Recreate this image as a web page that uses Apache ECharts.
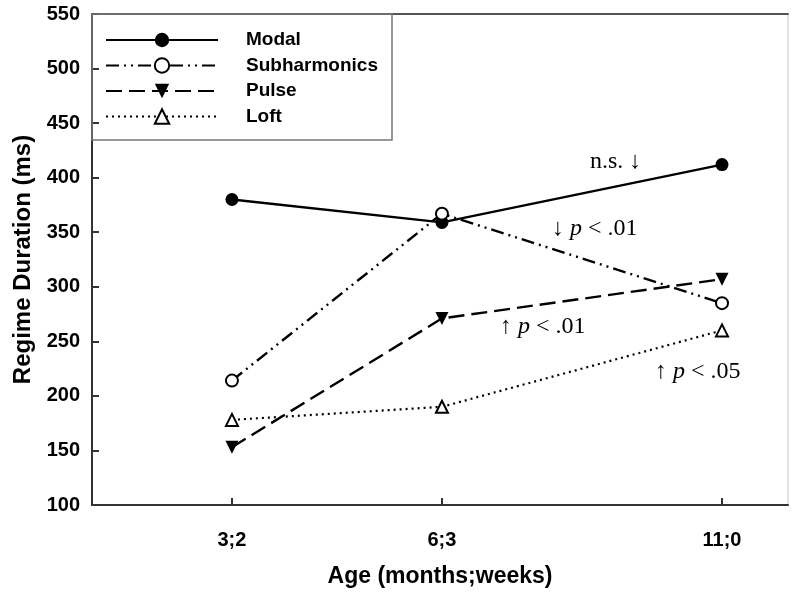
<!DOCTYPE html>
<html>
<head>
<meta charset="utf-8">
<script src="https://cdn.jsdelivr.net/npm/echarts@6/dist/echarts.min.js"></script>
<style>html,body{margin:0;padding:0;background:#fff}#c{width:800px;height:595px}</style>
</head>
<body>
<div id="c"></div>
<script>
// Ages (months;weeks) and their position on the age scale in weeks
const ageLabels = ['3;2', '6;3', '11;0'];
const ageWeeks = [15, 29, 47.67];
// Regime durations (ms)
const modal = [380, 359, 412];
const subharmonics = [214, 367, 285];
const pulse = [153, 271, 307];
const loft = [178, 190, 260];
const yTicks = [100, 150, 200, 250, 300, 350, 400, 450, 500, 550];

const pts = arr => arr.map((v, i) => [ageWeeks[i], v]);
const SANS = 'Liberation Sans';
const SERIF = 'Liberation Serif';
const annRich = {
  a: { fontFamily: SERIF, fontSize: 24, fill: '#000' },
  i: { fontFamily: SERIF, fontSize: 24, fontStyle: 'italic', fill: '#000' }
};

const chart = echarts.init(document.getElementById('c'));
chart.setOption({
  animation: false,
  backgroundColor: '#fff',
  grid: { left: 92, right: 12, top: 14, bottom: 90, show: true, borderColor: '#c8c8c8', borderWidth: 1 },
  xAxis: [{
    type: 'value', min: 5.67, max: 52.07,
    name: 'Age (months;weeks)', nameLocation: 'middle', nameGap: 60,
    nameTextStyle: { fontFamily: SANS, fontWeight: 'bold', fontSize: 23, color: '#000' },
    axisLine: { show: true, lineStyle: { color: '#333', width: 2 } },
    axisTick: { show: true, inside: true, length: 7, lineStyle: { color: '#333', width: 2 }, customValues: ageWeeks },
    axisLabel: { customValues: ageWeeks, margin: 25, fontFamily: SANS, fontWeight: 'bold', fontSize: 20, color: '#000',
      formatter: v => { const i = ageWeeks.findIndex(w => Math.abs(w - v) < 0.01); return i >= 0 ? ageLabels[i] : ''; } },
    splitLine: { show: false }
  }, {
    type: 'value', min: 5.67, max: 52.07, position: 'top',
    axisLine: { show: true, lineStyle: { color: '#555', width: 2 } },
    axisTick: { show: false }, axisLabel: { show: false }, splitLine: { show: false }
  }],
  yAxis: {
    type: 'value', min: 100, max: 550, interval: 50,
    name: 'Regime Duration (ms)', nameLocation: 'middle', nameGap: 57,
    nameTextStyle: { fontFamily: SANS, fontWeight: 'bold', fontSize: 24, color: '#000' },
    axisLine: { show: true, lineStyle: { color: '#333', width: 2 } },
    axisTick: { show: true, inside: true, length: 7, lineStyle: { color: '#333', width: 2 } },
    axisLabel: { margin: 12, fontFamily: SANS, fontWeight: 'bold', fontSize: 20, color: '#000',
      formatter: v => yTicks.includes(v) ? String(v) : '' },
    splitLine: { show: false }
  },
  legend: {
    orient: 'vertical', left: 105, top: 30, padding: 0,
    itemWidth: 112, itemHeight: 18, itemGap: 5.5,
    textStyle: { fontFamily: SANS, fontWeight: 'bold', fontSize: 19, lineHeight: 20, color: '#000', padding: [0, 0, 0, 23] },
    data: ['Modal', 'Subharmonics', 'Pulse', 'Loft']
  },
  graphic: [
    { type: 'rect', shape: { x: 92, y: 14, width: 300, height: 126 }, style: { fill: 'none', stroke: '#777', lineWidth: 1.5 }, z: 100 },
    { type: 'text', left: 590, top: 150, style: { text: '{a|n.s. ↓}', rich: annRich } },
    { type: 'text', left: 552, top: 217, style: { text: '{a|↓ }{i|p}{a| < .01}', rich: annRich } },
    { type: 'text', left: 500, top: 315, style: { text: '{a|↑ }{i|p}{a| < .01}', rich: annRich } },
    { type: 'text', left: 655, top: 360, style: { text: '{a|↑ }{i|p}{a| < .05}', rich: annRich } }
  ],
  series: [
    { name: 'Modal', type: 'line', data: pts(modal), symbol: 'circle', symbolSize: 13,
      lineStyle: { color: '#000', width: 2.4, type: 'solid' },
      itemStyle: { color: '#000', borderColor: '#000', borderWidth: 0 }, z: 3 },
    { name: 'Subharmonics', type: 'line', data: pts(subharmonics), symbol: 'circle', symbolSize: 12,
      lineStyle: { color: '#000', width: 2.4, type: [13, 5, 2, 5, 2, 5] },
      itemStyle: { color: '#fff', borderColor: '#000', borderWidth: 2 }, z: 4 },
    { name: 'Pulse', type: 'line', data: pts(pulse), symbol: 'triangle', symbolRotate: 180, symbolSize: 13,
      lineStyle: { color: '#000', width: 2.4, type: [16, 7] },
      itemStyle: { color: '#000', borderColor: '#000', borderWidth: 0 }, z: 3 },
    { name: 'Loft', type: 'line', data: pts(loft), symbol: 'triangle', symbolSize: 12,
      lineStyle: { color: '#000', width: 2.2, type: [2, 4] },
      itemStyle: { color: '#fff', borderColor: '#000', borderWidth: 2 }, z: 3 }
  ]
});
</script>
</body>
</html>
